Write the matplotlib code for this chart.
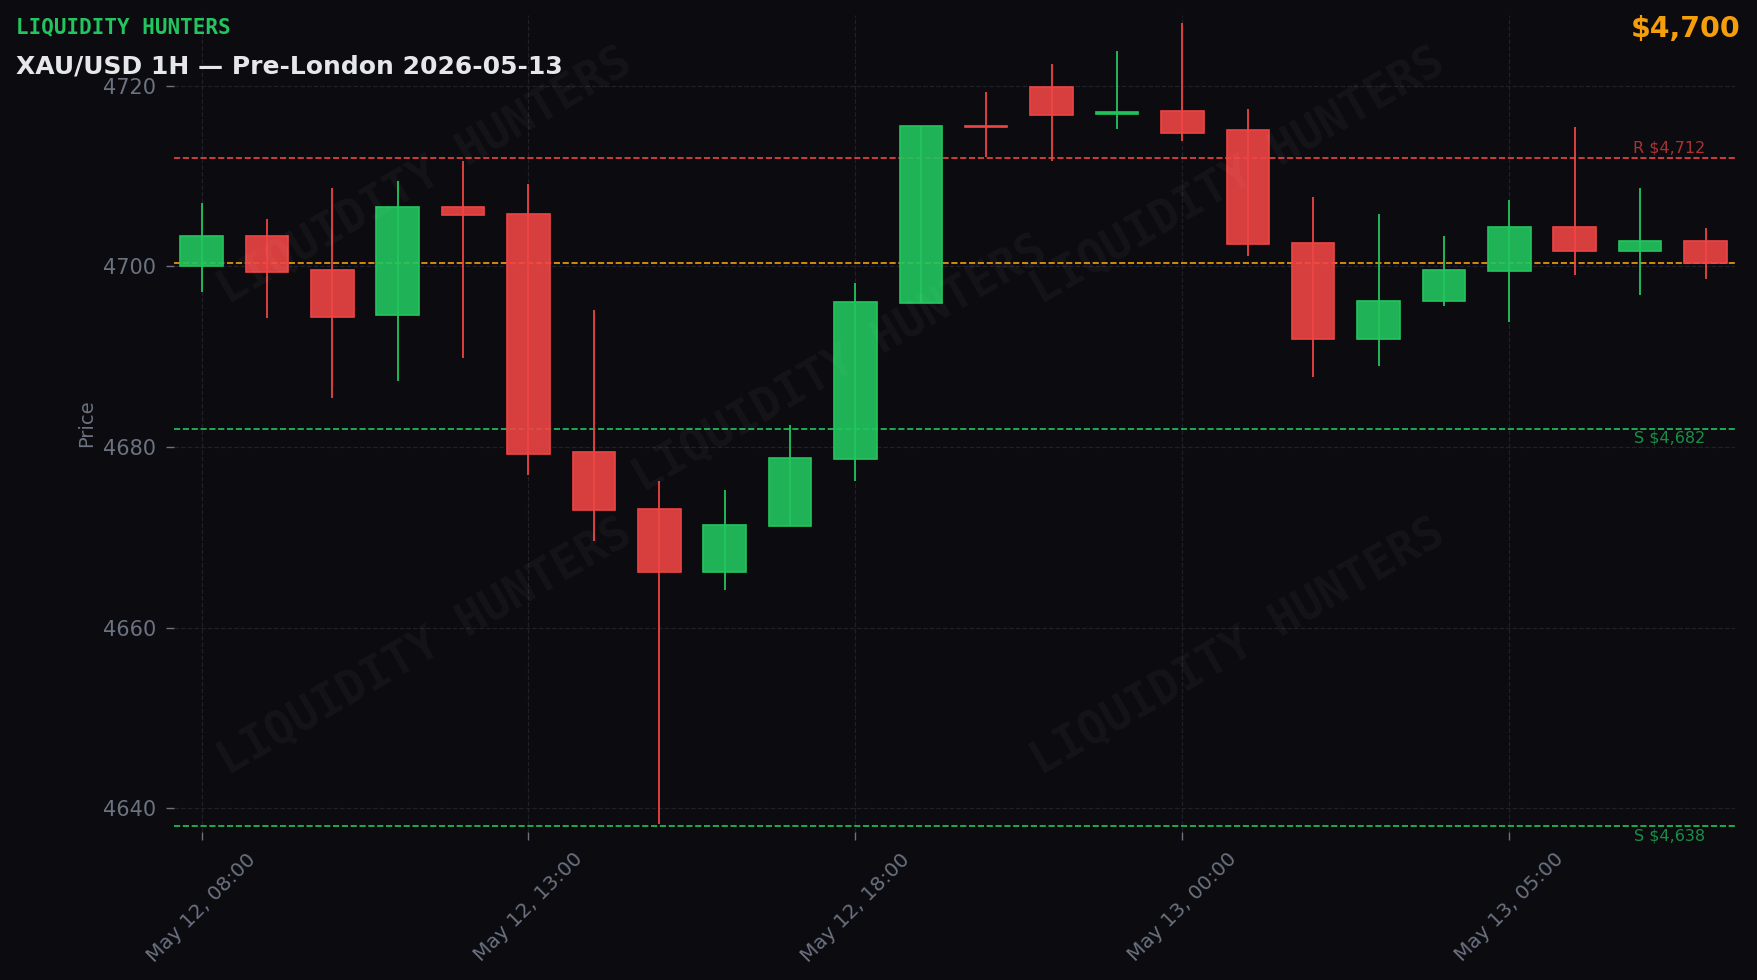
import matplotlib
matplotlib.use("Agg")
import matplotlib.pyplot as plt
from matplotlib.colors import to_rgba
from matplotlib.ticker import MultipleLocator

BG = '#0b0b10'
GREEN = '#22c55e'
RED = '#ef4444'
AMBER = '#f59e0b'
MUTED = '#6b7280'

# hourly candles, gold skips the 23:00 bar
times = ['May 12, 08:00', 'May 12, 09:00', 'May 12, 10:00', 'May 12, 11:00',
         'May 12, 12:00', 'May 12, 13:00', 'May 12, 14:00', 'May 12, 15:00',
         'May 12, 16:00', 'May 12, 17:00', 'May 12, 18:00', 'May 12, 19:00',
         'May 12, 20:00', 'May 12, 21:00', 'May 12, 22:00', 'May 13, 00:00',
         'May 13, 01:00', 'May 13, 02:00', 'May 13, 03:00', 'May 13, 04:00',
         'May 13, 05:00', 'May 13, 06:00', 'May 13, 07:00', 'May 13, 08:00']
opens = [4700.0, 4703.4, 4699.6, 4694.6, 4706.6, 4705.8, 4679.4, 4673.1,
         4666.2, 4671.3, 4678.7, 4696.0, 4715.6, 4719.9, 4716.9, 4717.2,
         4715.1, 4702.6, 4692.0, 4696.2, 4699.5, 4704.4, 4701.7, 4702.8]
highs = [4707.0, 4705.2, 4708.7, 4709.5, 4711.7, 4709.1, 4695.2, 4676.2,
         4675.2, 4682.4, 4698.2, 4715.6, 4719.3, 4722.4, 4723.8, 4726.9,
         4717.4, 4707.7, 4705.8, 4703.4, 4707.4, 4715.4, 4708.7, 4704.3]
lows = [4697.2, 4694.3, 4685.4, 4687.3, 4689.9, 4676.9, 4669.6, 4638.3,
        4664.2, 4671.2, 4676.2, 4695.9, 4712.1, 4711.7, 4715.2, 4713.9,
        4701.2, 4687.7, 4689.0, 4695.6, 4693.8, 4699.0, 4696.8, 4698.6]
closes = [4703.4, 4699.4, 4694.4, 4706.6, 4705.7, 4679.2, 4673.0, 4666.2,
          4671.4, 4678.8, 4696.1, 4715.6, 4715.4, 4716.8, 4717.1, 4714.8,
          4702.5, 4692.0, 4696.2, 4699.6, 4704.4, 4701.7, 4702.8, 4700.4]

resistance = [4712]
supports = [4682, 4638]
current = closes[-1]

fig = plt.figure(figsize=(17.58, 9.8), dpi=100, facecolor=BG)
ax = fig.add_axes([0.099, 0.1515, 0.8877, 0.8327])
ax.set_facecolor(BG)

for i in range(len(times)):
    o, h, l, c = opens[i], highs[i], lows[i], closes[i]
    col = GREEN if c >= o else RED
    ax.vlines(i, l, h, color=col, lw=1.3, zorder=2)
    ax.bar(i, max(abs(c - o), 0.15), bottom=min(o, c), width=0.65,
           facecolor=to_rgba(col, 0.9), edgecolor=col, linewidth=1.2, zorder=3)

last = len(times) - 1
for r in resistance:
    ax.axhline(r, color=RED, ls='--', lw=1.2, zorder=1.5)
    ax.text(last, r + 0.3, f'R ${r:,.0f}', color=RED, alpha=0.7, fontsize=11.5,
            ha='right', va='bottom')
for s in supports:
    ax.axhline(s, color=GREEN, ls='--', lw=1.2, zorder=1.5)
    ax.text(last, s - 0.2, f'S ${s:,.0f}', color=GREEN, alpha=0.7, fontsize=11.5,
            ha='right', va='top')
ax.axhline(current, color=AMBER, ls='--', lw=1.2, zorder=1.5)

# faint watermark tiles
for wx, wy in [(0.161, 0.803), (0.682, 0.803), (0.427, 0.573),
               (0.161, 0.226), (0.682, 0.226)]:
    ax.text(wx, wy, 'LIQUIDITY HUNTERS', transform=ax.transAxes, rotation=30,
            ha='center', va='center', family='DejaVu Sans Mono', weight='bold',
            fontsize=33, color='white', alpha=0.04, zorder=5)

rng = max(highs) - min(lows)
ax.set_ylim(min(lows) - 0.01 * rng, max(highs) + 0.01 * rng)
ax.set_xlim(-0.42, last + 0.445)
ax.yaxis.set_major_locator(MultipleLocator(20))
ticks = list(range(0, len(times), 5))
ax.set_xticks(ticks)
ax.set_xticklabels([times[t] for t in ticks], rotation=45)

ax.grid(True, color='#1f2029', ls='--', lw=0.9, zorder=0)
ax.set_axisbelow(True)
for sp in ax.spines.values():
    sp.set_visible(False)
ax.tick_params(colors=MUTED, labelsize=15, length=6, width=1, pad=7)
ax.tick_params(axis='x', labelsize=14.5)
ax.set_ylabel('Price', color=MUTED, fontsize=14, labelpad=5)

fig.text(0.009, 0.966, 'LIQUIDITY HUNTERS', color=GREEN, family='DejaVu Sans Mono',
         weight='bold', fontsize=15, va='baseline')
fig.text(0.009, 0.9245, 'XAU/USD 1H — Pre-London 2026-05-13', color='#e5e7eb',
         weight='bold', fontsize=18, va='baseline')
fig.text(0.990, 0.962, f'${current:,.0f}', color=AMBER, weight='bold', fontsize=20.5,
         ha='right', va='baseline')

fig.savefig('out.png', dpi=100, facecolor=BG)
